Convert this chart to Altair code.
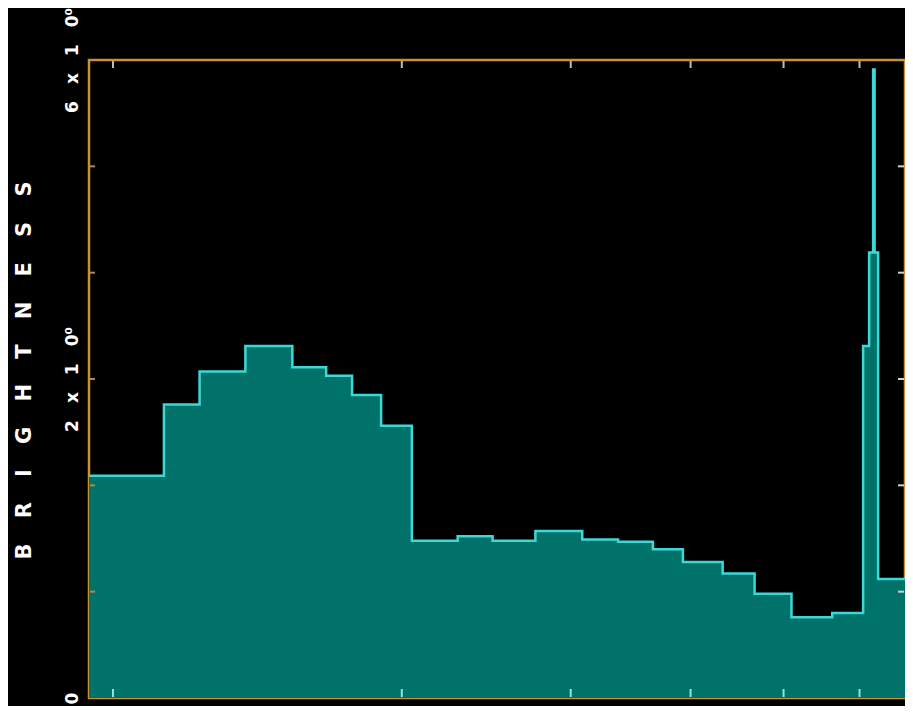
import altair as alt
import pandas as pd

# Step edges (log-scaled x) and the brightness level of each step (y units 0..6)
edges = [0.944, 1.130, 1.231, 1.374, 1.538, 1.668, 1.775, 1.903, 2.049, 2.287,
         2.487, 2.756, 3.084, 3.361, 3.654, 3.927, 4.320, 4.664, 5.096, 5.620,
         6.052, 6.140, 6.199, 6.221, 6.274, 6.692]
levels = [2.09, 2.76, 3.07, 3.31, 3.11, 3.03, 2.85, 2.56, 1.48, 1.52,
          1.48, 1.57, 1.49, 1.47, 1.40, 1.28, 1.17, 0.98, 0.76, 0.80,
          3.31, 4.19, 5.91, 4.19, 1.12]

tick_x = [1, 2, 3, 4, 5, 6]
tick_y = [1, 2, 3, 4, 5]
label_vals = [0, 3, 6]
label_text = ["0", "2\u2003x\u20031\u20030\u2070", "6\u2003x\u20031\u20030\u2070"]

vals = levels + [levels[-1]]
df = pd.DataFrame({"x": edges, "v": vals})
tx = pd.DataFrame({"x": tick_x})
ty = pd.DataFrame({"v": tick_y})

FRAME = "#c8922e"
FILL = "#00726a"
EDGE = "#3cd8d8"

W, H = 816, 638

xscale = alt.Scale(type="log", domain=[edges[0], edges[-1]], nice=False)
yscale = alt.Scale(domain=[0, 6], nice=False)

expr = " : ".join(
    [f"datum.value == {v} ? '{t}'" for v, t in zip(label_vals, label_text)]
) + " : ''"

SP = "\u2003\u2009"
yaxis = alt.Axis(
    values=label_vals,
    labelExpr=expr,
    ticks=False,
    domain=False,
    grid=False,
    labelAngle=270,
    labelAlign="center",
    labelBaseline="bottom",
    labelPadding=8,
    labelColor="#ffffff",
    labelFont="DejaVu Sans",
    labelFontSize=17,
    labelFontWeight="bold",
    labelOverlap=False,
    labelFlush=False,
    title=SP.join("BRIGHTNESS"),
    titleColor="#ffffff",
    titleFont="DejaVu Sans",
    titleFontSize=21,
    titleFontWeight="bold",
    titleAngle=270,
    titleAlign="center",
    titleBaseline="bottom",
    titleX=-55,
    titleY=310,
)

X = alt.X("x:Q", scale=xscale, axis=None)
Y = alt.Y("v:Q", scale=yscale, axis=yaxis)

area = alt.Chart(df).mark_area(interpolate="step-after", color=FILL, opacity=1).encode(x=X, y=Y)
line = alt.Chart(df).mark_line(interpolate="step-after", color=EDGE, strokeWidth=2.5).encode(x=X, y=Y)

top_ticks = alt.Chart(tx).mark_rule(color="#bdbdbd", strokeWidth=2).encode(
    x=X, y=alt.value(1), y2=alt.value(8))
bot_ticks = alt.Chart(tx).mark_rule(color="#8fe6d8", strokeWidth=2).encode(
    x=X, y=alt.value(H - 9), y2=alt.value(H - 1))
left_ticks = alt.Chart(ty).mark_rule(color="#b08a50", strokeWidth=2).encode(
    y=Y, x=alt.value(1), x2=alt.value(6))
right_ticks = alt.Chart(ty).mark_rule(color="#cfcfcf", strokeWidth=2).encode(
    y=Y, x=alt.value(W - 7), x2=alt.value(W - 1))

chart = alt.layer(area, line, top_ticks, bot_ticks, left_ticks, right_ticks).properties(
    width=W,
    height=H,
    background="#000000",
    autosize=alt.AutoSizeParams(type="none"),
    padding={"left": 81, "top": 52, "right": 0, "bottom": 8},
).configure_view(stroke=FRAME, strokeWidth=2.5)

chart.save("out.html", embed_options={"renderer": "svg", "actions": False})
